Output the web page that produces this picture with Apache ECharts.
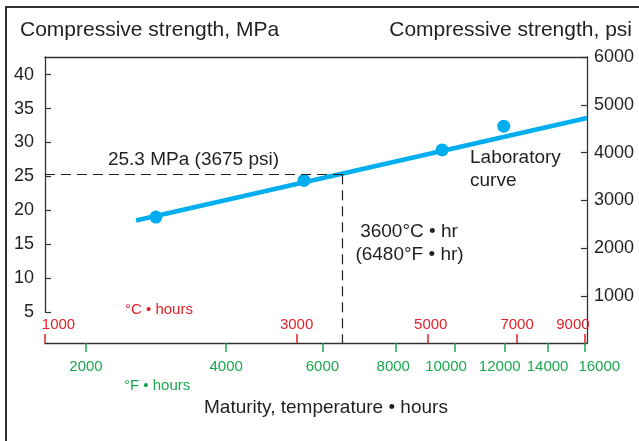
<!DOCTYPE html>
<html><head><meta charset="utf-8">
<script src="https://cdn.jsdelivr.net/npm/echarts@6/dist/echarts.min.js"></script>
<style>html,body{margin:0;padding:0;background:#fff}#c{width:639px;height:441px}</style>
</head><body><div id="c"></div>
<script>
// ---- data ----
const pointMaturityC = [1670, 3090, 5280, 6660];
const pointStrengthMPa = [19.0, 24.4, 28.9, 32.4];
const curveMaturityC = [1530, 9068];
const curveStrengthMPa = [18.5, 33.6];
const targetMaturityC = 3600;
const targetStrengthMPa = 25.3;
const ticksC = [1000, 3000, 5000, 7000, 9000];
const ticksF = [2000, 4000, 6000, 8000, 10000, 12000, 14000, 16000];
const ticksMPa = [5, 10, 15, 20, 25, 30, 35, 40];
const ticksPsi = [1000, 2000, 3000, 4000, 5000, 6000];

// axis scale transforms (the original maturity axis is log-like)
const tC = v => Math.log(v + 400);
const tF = v => Math.log(v + 1500);
const invC = t => Math.round(Math.exp(t) - 400);
const invF = t => Math.round(Math.exp(t) - 1500);

const FONT = "'Liberation Sans', Arial, Helvetica, sans-serif";
const DARK = '#231f20';
const RED = '#e8202a';
const GREEN = '#1aa84f';
const BLUE = '#00aeef';

const cMin = 1000, cMax = 9068, fMin = 1567, fMax = 16100;
const mpaMinHidden = 0.43, mpaMax = 42.6;

const labelShiftC = {1000: [0, 0, 0, 27], 5000: [0, 0, 0, 6], 9000: [0, 24, 0, 0]};
const labelShiftF = {8000: [0, 5, 0, 0], 10000: [0, 18, 0, 0], 12000: [0, 10, 0, 0], 16000: [0, 0, 0, 28]};

function richFor(shifts, color) {
  const r = {};
  Object.keys(shifts).forEach(k => {
    r['s' + k] = {padding: shifts[k], color: color, fontSize: 15, fontFamily: FONT};
  });
  return r;
}

const chart = echarts.init(document.getElementById('c'), null, {renderer: 'canvas'});
chart.setOption({
  animation: false,
  backgroundColor: '#fff',
  grid: [
    {left: 45, right: 52, top: 57, bottom: 98, outerBoundsMode: 'none', containLabel: false},
    {left: 45, right: 52, top: 57, bottom: 129, outerBoundsMode: 'none', containLabel: false}
  ],
  xAxis: [
    { // °C·hours
      gridIndex: 0, type: 'value', position: 'bottom',
      min: tC(cMin), max: tC(cMax),
      axisLine: {show: true, lineStyle: {color: '#333', width: 1.3}},
      splitLine: {show: false},
      axisTick: {show: true, inside: true, length: 9, lineStyle: {color: RED, width: 1.5},
        customValues: ticksC.map(tC)},
      axisLabel: {show: true, inside: true, margin: 11, color: RED, fontSize: 15, fontFamily: FONT,
        customValues: ticksC.map(tC),
        formatter: v => { const n = invC(v); return labelShiftC[n] ? '{s' + n + '|' + n + '}' : String(n); },
        rich: richFor(labelShiftC, RED)}
    },
    { // °F·hours
      gridIndex: 0, type: 'value', position: 'bottom',
      min: tF(fMin), max: tF(fMax),
      axisLine: {show: false},
      splitLine: {show: false},
      axisTick: {show: true, inside: false, length: 9, lineStyle: {color: GREEN, width: 1.5},
        customValues: ticksF.map(tF)},
      axisLabel: {show: true, margin: 16, color: GREEN, fontSize: 15, fontFamily: FONT,
        customValues: ticksF.map(tF),
        formatter: v => { const n = invF(v); return labelShiftF[n] ? '{s' + n + '|' + n + '}' : String(n); },
        rich: richFor(labelShiftF, GREEN)}
    },
    { // top border
      gridIndex: 0, type: 'value', position: 'top', min: 0, max: 1,
      axisLine: {show: true, lineStyle: {color: '#333', width: 1.3}},
      axisTick: {show: false}, axisLabel: {show: false}, splitLine: {show: false}
    },
    { // hidden x for left-axis grid
      gridIndex: 1, type: 'value', position: 'bottom', min: 0, max: 1, show: false
    }
  ],
  yAxis: [
    { // hidden MPa scale used for data (full plot height)
      gridIndex: 0, type: 'value', position: 'left', min: mpaMinHidden, max: mpaMax, show: false
    },
    { // psi (right)
      gridIndex: 0, type: 'value', position: 'right', min: 20, max: 6000,
      axisLine: {show: true, lineStyle: {color: '#333', width: 1.3}},
      splitLine: {show: false},
      axisTick: {show: true, inside: true, length: 6, lineStyle: {color: '#333', width: 1.2},
        customValues: ticksPsi},
      axisLabel: {show: true, margin: 7, color: DARK, fontSize: 18, fontFamily: FONT,
        customValues: ticksPsi, formatter: v => String(Math.round(v))}
    },
    { // MPa (left, visible part down to 5)
      gridIndex: 1, type: 'value', position: 'left', min: 5, max: mpaMax,
      axisLine: {show: true, lineStyle: {color: '#333', width: 1.3}},
      splitLine: {show: false},
      axisTick: {show: true, inside: true, length: 6, lineStyle: {color: '#333', width: 1.2},
        customValues: ticksMPa},
      axisLabel: {show: true, margin: 11, color: DARK, fontSize: 18, fontFamily: FONT,
        customValues: ticksMPa, formatter: v => String(Math.round(v))}
    }
  ],
  series: [
    {
      type: 'line', xAxisIndex: 0, yAxisIndex: 0,
      data: curveMaturityC.map((c, i) => [tC(c), curveStrengthMPa[i]]),
      showSymbol: false, symbol: 'none',
      lineStyle: {color: BLUE, width: 4.5},
      itemStyle: {color: BLUE},
      clip: false, silent: true, z: 3,
      markLine: {
        silent: true, symbol: 'none', label: {show: false},
        lineStyle: {color: '#222', width: 1.2, type: [10, 6]},
        data: [
          [{coord: [tC(cMin), targetStrengthMPa]}, {coord: [tC(targetMaturityC), targetStrengthMPa]}],
          [{coord: [tC(targetMaturityC), targetStrengthMPa]}, {coord: [tC(targetMaturityC), mpaMinHidden]}]
        ]
      }
    },
    {
      type: 'scatter', xAxisIndex: 0, yAxisIndex: 0,
      data: pointMaturityC.map((c, i) => [tC(c), pointStrengthMPa[i]]),
      symbol: 'circle', symbolSize: 13,
      itemStyle: {color: BLUE, opacity: 1},
      silent: true, z: 4
    }
  ],
  graphic: [
    {type: 'line', shape: {x1: 6, y1: 7, x2: 6, y2: 441}, style: {stroke: '#333', lineWidth: 2}},
    {type: 'line', shape: {x1: 5, y1: 7, x2: 639, y2: 7}, style: {stroke: '#333', lineWidth: 2}},
    {type: 'text', x: 20, y: 30, style: {text: 'Compressive strength, MPa', fill: DARK, font: '21px ' + FONT, align: 'left', verticalAlign: 'middle'}},
    {type: 'text', x: 632, y: 30, style: {text: 'Compressive strength, psi', fill: DARK, font: '21px ' + FONT, align: 'right', verticalAlign: 'middle'}},
    {type: 'text', x: 193.5, y: 160, style: {text: '25.3 MPa (3675 psi)', fill: DARK, font: '19px ' + FONT, align: 'center', verticalAlign: 'middle'}},
    {type: 'text', x: 470, y: 158, style: {text: 'Laboratory', fill: DARK, font: '19px ' + FONT, align: 'left', verticalAlign: 'middle'}},
    {type: 'text', x: 470, y: 181, style: {text: 'curve', fill: DARK, font: '19px ' + FONT, align: 'left', verticalAlign: 'middle'}},
    {type: 'text', x: 409, y: 232, style: {text: '3600°C • hr', fill: DARK, font: '19px ' + FONT, align: 'center', verticalAlign: 'middle'}},
    {type: 'text', x: 409.5, y: 255, style: {text: '(6480°F • hr)', fill: DARK, font: '19px ' + FONT, align: 'center', verticalAlign: 'middle'}},
    {type: 'text', x: 125, y: 310, style: {text: '°C • hours', fill: RED, font: '15px ' + FONT, align: 'left', verticalAlign: 'middle'}},
    {type: 'text', x: 124, y: 386, style: {text: '°F • hours', fill: GREEN, font: '15px ' + FONT, align: 'left', verticalAlign: 'middle'}},
    {type: 'text', x: 204, y: 408, style: {text: 'Maturity, temperature • hours', fill: DARK, font: '19px ' + FONT, align: 'left', verticalAlign: 'middle'}}
  ]
});
</script>
</body></html>
